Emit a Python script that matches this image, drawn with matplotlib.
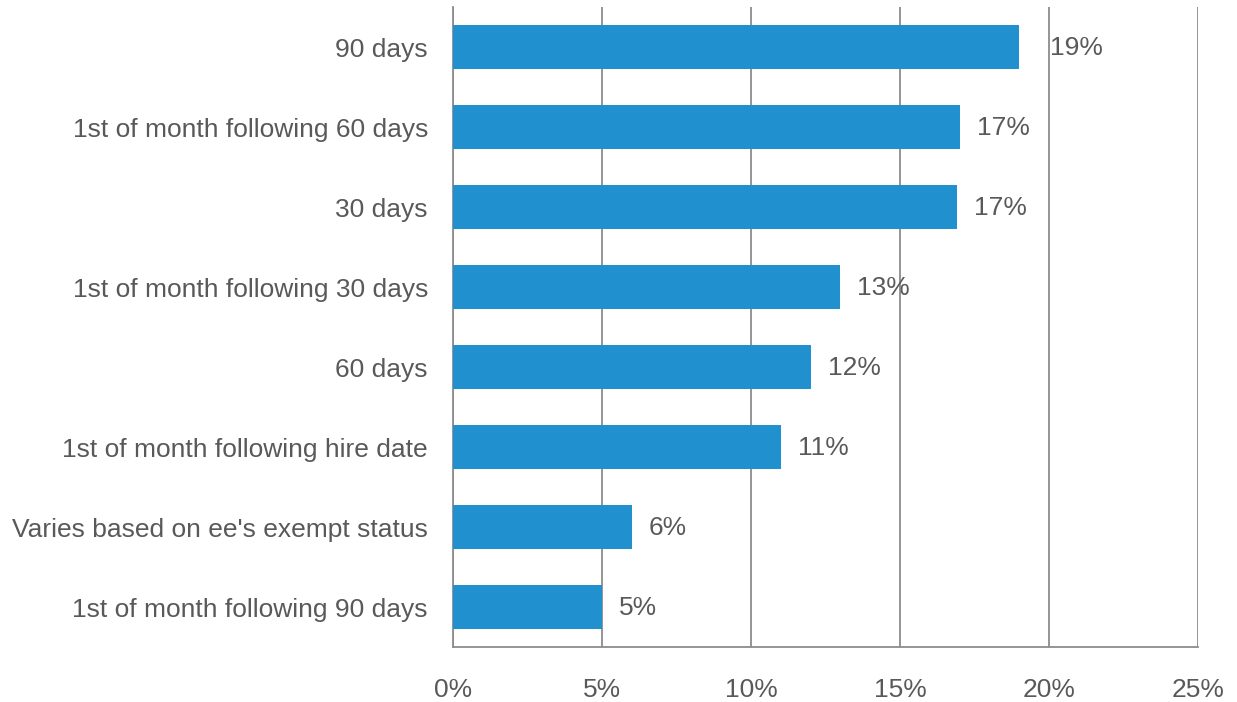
import matplotlib
matplotlib.use('Agg')
import matplotlib.pyplot as plt
from matplotlib.ticker import FuncFormatter

categories = ['90 days',
              '1st of month following 60 days',
              '30 days',
              '1st of month following 30 days',
              '60 days',
              '1st of month following hire date',
              "Varies based on ee's exempt status",
              '1st of month following 90 days']
shares = [19, 17, 16.9, 13, 12, 11, 6, 5]
xticks = [0, 5, 10, 15, 20, 25]

BAR = '#2190cf'
GRID = '#8c8c8c'
TEXT = '#595959'
FS = 19

plt.rcParams['font.family'] = ['Liberation Sans', 'DejaVu Sans']

fig = plt.figure(figsize=(12.37, 7.02), dpi=100)
ax = fig.add_axes([453/1237, 1 - 647/702, 745/1237, 640/702])

ypos = list(range(len(categories)))
ax.barh(ypos, shares, height=0.56, color=BAR, zorder=3)
ax.set_ylim(len(categories) - 0.5, -0.5)
ax.set_xlim(0, 25)

ax.set_yticks(ypos)
ax.set_yticklabels(categories, fontsize=FS, color=TEXT)
ax.set_xticks(xticks)
ax.xaxis.set_major_formatter(FuncFormatter(lambda v, p: '{:.0f}%'.format(v)))
ax.tick_params(axis='x', labelsize=FS, labelcolor=TEXT, length=0, pad=22)
ax.tick_params(axis='y', length=0, pad=18)

ax.grid(axis='x', color=GRID, linewidth=1.3, zorder=0)
for side in ('top', 'right'):
    ax.spines[side].set_visible(False)
for side in ('left', 'bottom'):
    ax.spines[side].set_color(GRID)
    ax.spines[side].set_linewidth(1.3)

# value labels, first one pushed past the 20% gridline
for i, v in enumerate(shares):
    off = 31 if i == 0 else 17
    ax.annotate('{:.0f}%'.format(v), xy=(v, i), xytext=(off * 0.72, -1),
                textcoords='offset points', va='center', ha='left',
                fontsize=FS, color=TEXT, zorder=4)

fig.savefig('out.png', dpi=100)
